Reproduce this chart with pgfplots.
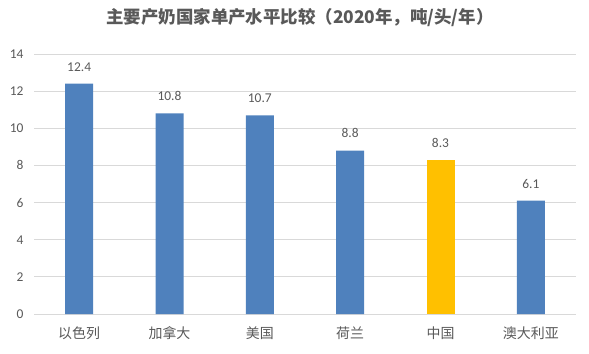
\documentclass[border=0pt]{standalone}
\usepackage{fontspec}
\setmainfont{Carlito}
\newfontfamily\cjk{Noto Sans CJK SC}
\usepackage{pgfplots}
\pgfplotsset{compat=1.18}
\definecolor{barblue}{HTML}{4F81BD}
\definecolor{baryel}{HTML}{FFC000}
\definecolor{txtgray}{HTML}{595959}
\definecolor{gridgray}{HTML}{D9D9D9}
\begin{document}
\begin{tikzpicture}[x=1bp,y=1bp]
\path[use as bounding box] (0,0) rectangle (589,353);
\node[text=txtgray,font=\fontsize{17.5}{20}\selectfont\bfseries\cjk] at (300,335) {主要产奶国家单产水平比较（2020年，吨/头/年）};
\begin{axis}[
  at={(34bp,39bp)}, anchor=south west,
  scale only axis, width=542bp, height=260bp,
  xmin=-0.5, xmax=5.5, ymin=0, ymax=14,
  ytick={0,2,...,14},
  xtick={0,...,5},
  xticklabels={以色列,加拿大,美国,荷兰,中国,澳大利亚},
  x tick label style={font=\fontsize{14}{16}\selectfont\cjk, text=txtgray, yshift=-5bp},
  y tick label style={font=\fontsize{13.5}{15}\selectfont, text=txtgray, xshift=-7bp},
  /pgf/number format/assume math mode=true,
  axis line style={draw=none},
  tick style={draw=none},
  ymajorgrids, grid style={gridgray, line width=0.9bp},
  ybar, bar width=28bp, bar shift=0pt,
  nodes near coords={\pgfmathprintnumber[fixed,fixed zerofill,precision=1]{\pgfplotspointmeta}},
  nodes near coords style={font=\fontsize{13.5}{15}\selectfont, text=txtgray, yshift=9bp},
]
\addplot[fill=barblue, draw=none] coordinates {(0,12.4) (1,10.8) (2,10.7) (3,8.8) (5,6.1)};
\addplot[fill=baryel, draw=none] coordinates {(4,8.3)};
\end{axis}
\end{tikzpicture}
\end{document}
